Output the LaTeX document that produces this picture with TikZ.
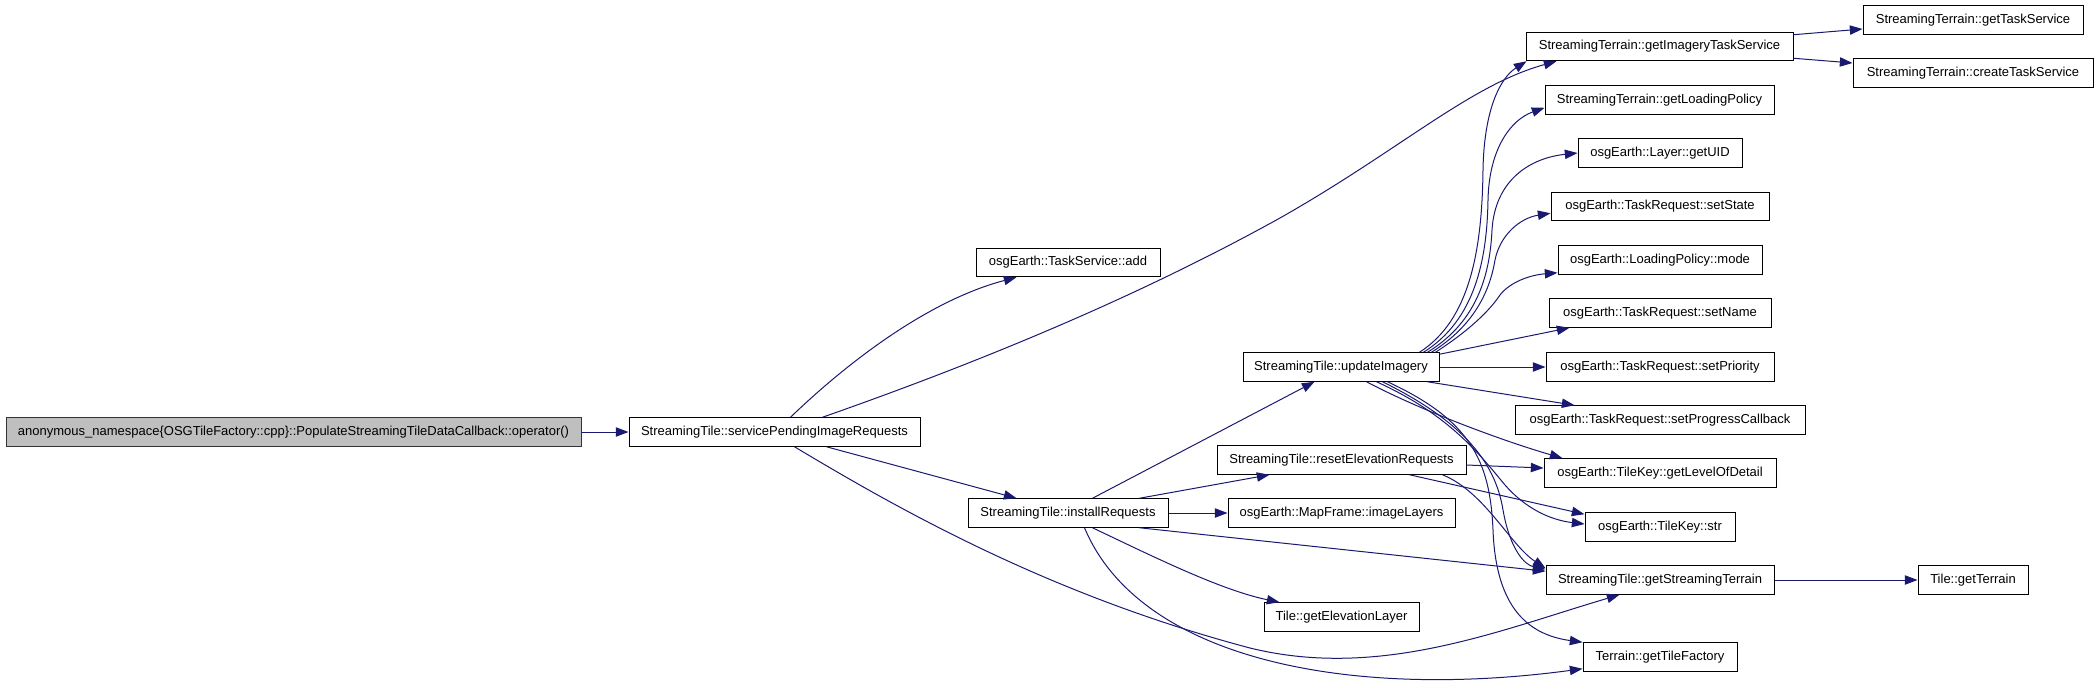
\documentclass[tikz,border=0pt]{standalone}
\usepackage{fontspec}
\setmainfont{Liberation Sans}
\usetikzlibrary{arrows.meta,calc}
\definecolor{callblue}{HTML}{191970}

\begin{document}
\begin{tikzpicture}[x=0.75pt,y=-0.75pt,
  fnbox/.style={draw=black,line width=0.75pt,inner sep=0pt,minimum height=21.4pt,
    font=\fontsize{9.75}{11}\selectfont},
  boxw/.style={minimum width=#1*0.75pt},
  rootbox/.style={fnbox,fill=black!25,draw=black!80},
  call/.style={draw=callblue,line width=0.75pt,-{Triangle[length=9.5pt,width=7pt]}}]
\useasboundingbox (0,0) rectangle (2099,686);
% ---- caller and first level ----
\node[rootbox,boxw=575] (root) at (293.5,432) {anonymous\_namespace\{OSGTileFactory::cpp\}::PopulateStreamingTileDataCallback::operator()};
\node[fnbox,boxw=291] (svc) at (774.5,432) {StreamingTile::servicePendingImageRequests};
% ---- second level ----
\node[fnbox,boxw=184] (add) at (1068,262.5) {osgEarth::TaskService::add};
\node[fnbox,boxw=200] (install) at (1068,513) {StreamingTile::installRequests};
% ---- third level ----
\node[fnbox,boxw=196] (updImg) at (1341,367) {StreamingTile::updateImagery};
\node[fnbox,boxw=249] (resetElev) at (1341.5,460) {StreamingTile::resetElevationRequests};
\node[fnbox,boxw=227] (imgLayers) at (1341.5,513) {osgEarth::MapFrame::imageLayers};
\node[fnbox,boxw=155] (elevLayer) at (1341.5,617) {Tile::getElevationLayer};
% ---- fourth level ----
\node[fnbox,boxw=267] (imgTask) at (1659.5,46.5) {StreamingTerrain::getImageryTaskService};
\node[fnbox,boxw=229] (loadPol) at (1659.5,100) {StreamingTerrain::getLoadingPolicy};
\node[fnbox,boxw=164] (uid) at (1660,153) {osgEarth::Layer::getUID};
\node[fnbox,boxw=218] (setState) at (1660,206.5) {osgEarth::TaskRequest::setState};
\node[fnbox,boxw=204] (mode) at (1660,260) {osgEarth::LoadingPolicy::mode};
\node[fnbox,boxw=222] (setName) at (1660,313) {osgEarth::TaskRequest::setName};
\node[fnbox,boxw=228] (setPrio) at (1660,367) {osgEarth::TaskRequest::setPriority};
\node[fnbox,boxw=290] (setProg) at (1660,420) {osgEarth::TaskRequest::setProgressCallback};
\node[fnbox,boxw=232] (lod) at (1660,473) {osgEarth::TileKey::getLevelOfDetail};
\node[fnbox,boxw=150] (keyStr) at (1660,527) {osgEarth::TileKey::str};
\node[fnbox,boxw=228] (strTerr) at (1660,580) {StreamingTile::getStreamingTerrain};
\node[fnbox,boxw=154] (tileFac) at (1660,657) {Terrain::getTileFactory};
% ---- fifth level ----
\node[fnbox,boxw=220] (taskSvc) at (1973,20) {StreamingTerrain::getTaskService};
\node[fnbox,boxw=240] (createSvc) at (1973,73) {StreamingTerrain::createTaskService};
\node[fnbox,boxw=110] (terrain) at (1973,580) {Tile::getTerrain};
% ---- calls of the root and of servicePendingImageRequests ----
\draw[call] (root.east) -- (svc.west);
\draw[call] ($(svc.north west)+(162,0)$) .. controls (850,360) and (930,300) .. ($(add.south west)+(41,0)$);
\draw[call] ($(svc.north west)+(194,0)$) .. controls (1000,355) and (1150,290) .. (1280,218)
  .. controls (1400,150) and (1470,85) .. ($(imgTask.south west)+(31,0)$);
\draw[call] ($(svc.south west)+(198,0)$) -- ($(install.north west)+(49,0)$);
\draw[call] ($(svc.south west)+(166,0)$) .. controls (900,510) and (1050,595) .. (1250,648)
  .. controls (1380,680) and (1500,630) .. ($(strTerr.south west)+(74,0)$);
% ---- calls of installRequests ----
\draw[call] ($(install.north west)+(125,0)$) -- ($(updImg.south west)+(72,0)$);
\draw[call] ($(install.north west)+(172,0)$) -- ($(resetElev.south west)+(53,0)$);
\draw[call] (install.east) -- (imgLayers.west);
\draw[call] ($(install.south west)+(125,0)$) .. controls (1150,555) and (1220,590) .. ($(elevLayer.north west)+(16,0)$);
\draw[call] ($(install.south west)+(172,0)$) -- ($(strTerr.north west)+(0,6)$);
\draw[call] ($(install.south west)+(117,0)$) .. controls (1140,660) and (1350,700) .. ($(tileFac.south west)+(0,-3)$);
% ---- calls of updateImagery ----
\draw[call] ($(updImg.north west)+(177,0)$) .. controls (1470,320) and (1482,250) .. (1483,170)
  .. controls (1484,110) and (1500,78) .. ($(imgTask.south west)+(1,0)$);
\draw[call] ($(updImg.north west)+(181,0)$) .. controls (1475,320) and (1487,260) .. (1488,200)
  .. controls (1489,150) and (1510,120) .. ($(loadPol.south west)+(0,-7)$);
\draw[call] ($(updImg.north west)+(185,0)$) .. controls (1480,320) and (1490,270) .. (1492,230)
  .. controls (1495,180) and (1530,158) .. (uid.west);
\draw[call] ($(updImg.north west)+(189,0)$) .. controls (1475,325) and (1490,290) .. (1495,260)
  .. controls (1500,235) and (1520,218) .. ($(setState.south west)+(0,-8)$);
\draw[call] ($(updImg.north west)+(193,0)$) .. controls (1470,330) and (1490,310) .. (1500,295)
  .. controls (1510,282) and (1530,275) .. ($(mode.south west)+(0,-2)$);
\draw[call] ($(updImg.north east)+(0,2)$) -- ($(setName.south west)+(21,0)$);
\draw[call] (updImg.east) -- (setPrio.west);
\draw[call] ($(updImg.south east)+(-12,0)$) -- ($(setProg.north west)+(60,0)$);
\draw[call] ($(updImg.south west)+(124,0)$) .. controls (1420,410) and (1500,440) .. ($(lod.north west)+(19,0)$);
\draw[call] ($(updImg.south west)+(134,0)$) .. controls (1450,415) and (1480,455) .. (1505,485)
  .. controls (1525,508) and (1550,520) .. ($(keyStr.west)+(0,-3)$);
\draw[call] ($(updImg.south west)+(140,0)$) .. controls (1460,420) and (1495,460) .. (1503,510)
  .. controls (1510,550) and (1525,565) .. ($(strTerr.north west)+(0,4)$);
\draw[call] ($(updImg.south west)+(145,0)$) .. controls (1470,420) and (1490,460) .. (1493,530)
  .. controls (1496,610) and (1530,635) .. (tileFac.north west);
% ---- calls of resetElevationRequests ----
\draw[call] ($(resetElev.east)+(0,5)$) -- ($(lod.west)+(0,-5)$);
\draw[call] ($(resetElev.south west)+(193,0)$) -- ($(keyStr.north west)+(0,2)$);
\draw[call] ($(resetElev.south west)+(226,0)$) .. controls (1485,492) and (1510,545) .. ($(strTerr.north west)+(0,3)$);
% ---- calls of the terrain getters ----
\draw[call] ($(imgTask.north east)+(0,3)$) -- ($(taskSvc.west)+(0,9)$);
\draw[call] ($(imgTask.south east)+(0,-3)$) -- ($(createSvc.west)+(0,-10)$);
\draw[call] (strTerr.east) -- (terrain.west);
\end{tikzpicture}
\end{document}
